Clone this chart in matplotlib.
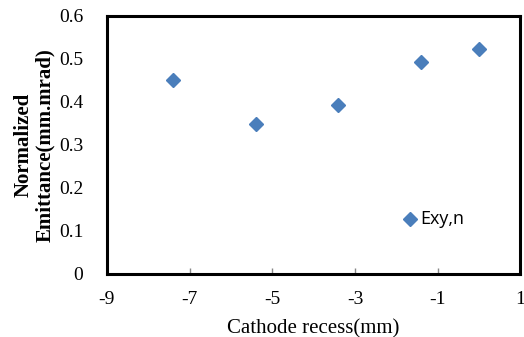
import matplotlib.pyplot as plt

plt.rcParams['axes.unicode_minus'] = False

recess = [-7.4, -5.4, -3.4, -1.4, 0.0]
emittance = [0.45, 0.348, 0.392, 0.493, 0.522]

fig = plt.figure(figsize=(5.24, 3.37), dpi=100)
ax = fig.add_axes([0.204, 0.187, 0.789, 0.766])

ax.plot(recess, emittance, 'D', color='#4A7EBB', markersize=6.8, linestyle='none')

# legend drawn as in the original (marker + text inside the plot)
ax.plot([-1.68], [0.128], 'D', color='#4A7EBB', markersize=6.8)
ax.text(-1.42, 0.128, 'Exy,n', fontsize=13, family='Open Sans', va='center', ha='left')

ax.set_xlim(-9, 1)
ax.set_ylim(0, 0.6)
ax.set_xticks([-9, -7, -5, -3, -1, 1])
ax.set_yticks([0, 0.1, 0.2, 0.3, 0.4, 0.5, 0.6])
ax.set_yticklabels(['0', '0.1', '0.2', '0.3', '0.4', '0.5', '0.6'])

for s in ax.spines.values():
    s.set_color('black')
    s.set_linewidth(2.2)

ax.tick_params(axis='x', direction='in', length=4, width=1, color='#888888', pad=12)
ax.tick_params(axis='y', length=0, pad=17)
for lab in ax.get_xticklabels() + ax.get_yticklabels():
    lab.set_family('Liberation Serif')
    lab.set_fontsize(14)

ax.set_xlabel('Cathode recess(mm)', family='Liberation Serif', fontsize=15, labelpad=8)
ax.set_ylabel('Normalized\nEmittance(mm.mrad)', family='Liberation Serif', fontsize=15,
              fontweight='bold', labelpad=3, linespacing=1.1)

fig.savefig('out.png', dpi=100)
